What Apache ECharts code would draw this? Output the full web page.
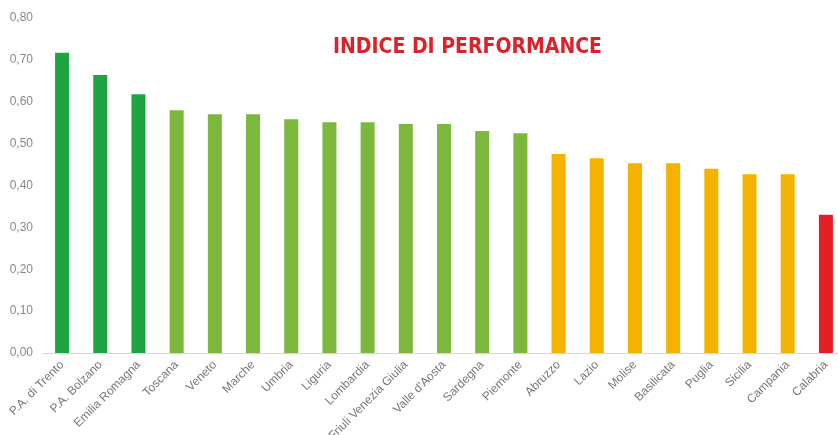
<!DOCTYPE html>
<html>
<head>
<meta charset="utf-8">
<script src="https://cdn.jsdelivr.net/npm/echarts@6/dist/echarts.min.js"></script>
<style>
    html, body { margin: 0; padding: 0; background: #fff; }
    #chart { width: 838px; height: 435px; }
</style>
</head>
<body>
<div id="chart"></div>
<script>
var regioni = ['P.A. di Trento', 'P.A. Bolzano', 'Emilia Romagna', 'Toscana', 'Veneto', 'Marche',
    'Umbria', 'Liguria', 'Lombardia', 'Friuli Venezia Giulia', "Valle d'Aosta", 'Sardegna', 'Piemonte',
    'Abruzzo', 'Lazio', 'Molise', 'Basilicata', 'Puglia', 'Sicilia', 'Campania', 'Calabria'];
var indice = [0.717, 0.664, 0.618, 0.58, 0.57, 0.57,
    0.558, 0.551, 0.551, 0.547, 0.547, 0.53, 0.525,
    0.475, 0.465, 0.453, 0.453, 0.44, 0.427, 0.427, 0.33];

var myChart = echarts.init(document.getElementById('chart'));

var option = {
    animation: false,
    title: {
        text: 'INDICE DI PERFORMANCE',
        left: 328,
        top: 32,
        textStyle: {
            color: '#d9232b',
            fontFamily: 'DejaVu Sans Condensed',
            fontWeight: 'bold',
            fontSize: 21
        }
    },
    grid: {
        left: 43,
        right: -7,
        top: 18,
        bottom: 82,
        containLabel: false,
        outerBoundsMode: 'none'
    },
    // fasce di colore per valore dell'indice
    visualMap: {
        show: false,
        type: 'piecewise',
        dimension: 1,
        pieces: [
            { gte: 0.6, color: '#1fa442' },
            { gte: 0.5, lt: 0.6, color: '#7bb83c' },
            { gte: 0.4, lt: 0.5, color: '#f6b200' },
            { lt: 0.4, color: '#e31e24' }
        ]
    },
    xAxis: {
        type: 'category',
        data: regioni,
        axisLine: { lineStyle: { color: '#d6d6d6' } },
        axisTick: { show: false },
        axisLabel: {
            interval: 0,
            rotate: 45,
            color: '#777',
            fontFamily: 'Liberation Sans',
            fontSize: 12,
            margin: 10
        }
    },
    yAxis: {
        type: 'value',
        min: 0,
        max: 0.8,
        interval: 0.1,
        axisLine: { show: false },
        axisTick: { show: false },
        splitLine: { show: false },
        axisLabel: {
            color: '#888',
            fontFamily: 'Liberation Sans',
            fontSize: 12,
            margin: 10,
            formatter: function (v)
            {
                return v.toFixed(2).replace('.', ',');
            }
        }
    },
    series: [{
        type: 'bar',
        data: indice,
        barWidth: 14
    }]
};

myChart.setOption(option);
</script>
</body>
</html>
